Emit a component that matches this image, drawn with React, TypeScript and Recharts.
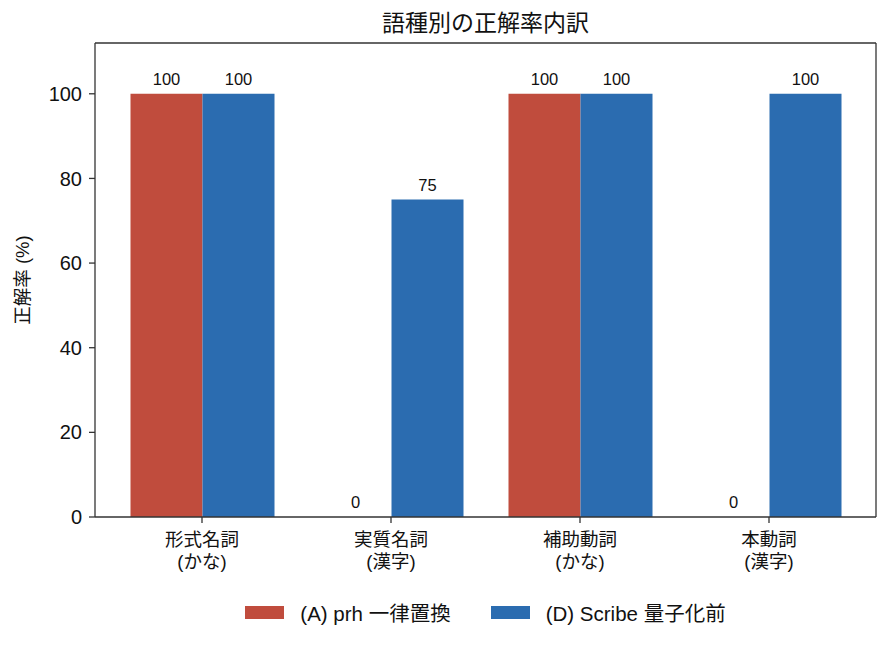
import React from 'react';
import { BarChart, Bar, XAxis, YAxis, Legend, LabelList } from 'recharts';

const categoryLine1 = ['形式名詞', '実質名詞', '補助動詞', '本動詞'];
const categoryLine2 = ['(かな)', '(漢字)', '(かな)', '(漢字)'];
const seriesA = [100, 0, 100, 0];
const seriesD = [100, 75, 100, 100];
const yTicks = [0, 20, 40, 60, 80, 100];
const seriesNames = ['(A) prh 一律置換', '(D) Scribe 量子化前'];
const titleText = '語種別の正解率内訳';
const yLabelText = '正解率 (%)';

const RED = '#C04C3D';
const BLUE = '#2B6CB0';
const AXIS = '#333333';
const FONT = '"Liberation Sans", "Noto Sans CJK JP", sans-serif';

const data = categoryLine1.map((c, i) => ({
  cat: c,
  a: seriesA[i],
  d: seriesD[i],
}));

const XTick = (props: any) => {
  const { x, y, index } = props;
  return (
    <text x={x} y={y} textAnchor="middle" fontSize={18.5} fill="#111" fontFamily={FONT}>
      <tspan x={x} dy={21}>{categoryLine1[index]}</tspan>
      <tspan x={x} dy={22}>{categoryLine2[index]}</tspan>
    </text>
  );
};

const YLabel = () => (
  <text
    x={22}
    y={280}
    transform="rotate(-90 22 280)"
    textAnchor="middle"
    dominantBaseline="central"
    fontSize={18.5}
    fill="#111"
    fontFamily={FONT}
  >
    {yLabelText}
  </text>
);

const BarValueLabel = (props: any) => {
  const { x, y, width, height, value } = props;
  if (value === undefined || value === null) return null;
  const top = Math.min(Number(y), Number(y) + Number(height));
  return (
    <text
      x={Number(x) + Number(width) / 2}
      y={top - 9}
      textAnchor="middle"
      fontSize={16.5}
      fill="#111"
      fontFamily={FONT}
    >
      {value}
    </text>
  );
};

const LegendContent = () => (
  <div
    style={{
      display: 'flex',
      justifyContent: 'center',
      alignItems: 'center',
      height: 30,
      fontFamily: FONT,
      fontSize: 20.5,
      color: '#111',
    }}
  >
    {[RED, BLUE].map((c, i) => (
      <div key={i} style={{ display: 'flex', alignItems: 'center', marginLeft: i === 0 ? 0 : 40 }}>
        <div style={{ width: 39, height: 13, background: c, marginRight: 16 }} />
        <span>{seriesNames[i]}</span>
      </div>
    ))}
  </div>
);

export default function App() {
  return (
    <div style={{ position: 'absolute', left: 0, top: 0, width: 890, height: 645, background: '#fff' }}>
      <div
        style={{
          position: 'absolute',
          left: 95,
          width: 781,
          top: 8,
          textAlign: 'center',
          fontFamily: FONT,
          fontSize: 23,
          lineHeight: '30px',
          color: '#111',
        }}
      >
        {titleText}
      </div>
      <BarChart
        width={890}
        height={645}
        data={data}
        margin={{ top: 43, right: 14, left: 0, bottom: 18 }}
        barGap={0}
        barSize={72}
        style={{ fontFamily: FONT }}
      >
        <XAxis
          dataKey="cat"
          height={80}
          padding={{ left: 12.5, right: 12.5 }}
          tick={<XTick />}
          tickSize={6}
          tickMargin={2}
          interval={0}
          axisLine={{ stroke: AXIS, strokeWidth: 1.3 }}
          tickLine={{ stroke: AXIS, strokeWidth: 1.3 }}
        />
        <YAxis
          width={95}
          domain={[0, 112]}
          ticks={yTicks}
          allowDataOverflow
          tickSize={6}
          tickMargin={7}
          tick={{ fontSize: 20, fill: '#111', fontFamily: FONT }}
          axisLine={{ stroke: AXIS, strokeWidth: 1.3 }}
          tickLine={{ stroke: AXIS, strokeWidth: 1.3 }}
          label={<YLabel />}
        />
        <Legend
          verticalAlign="bottom"
          content={<LegendContent />}
          wrapperStyle={{ left: 95, width: 781 }}
        />
        <Bar dataKey="a" name={seriesNames[0]} fill={RED} minPointSize={0.01} isAnimationActive={false}>
          <LabelList dataKey="a" content={<BarValueLabel />} />
        </Bar>
        <Bar dataKey="d" name={seriesNames[1]} fill={BLUE} minPointSize={0.01} isAnimationActive={false}>
          <LabelList dataKey="d" content={<BarValueLabel />} />
        </Bar>
      </BarChart>
      <svg
        width={890}
        height={645}
        style={{ position: 'absolute', left: 0, top: 0, pointerEvents: 'none' }}
      >
        <line x1={95} y1={43} x2={876} y2={43} stroke={AXIS} strokeWidth={1.3} />
        <line x1={876} y1={43} x2={876} y2={517} stroke={AXIS} strokeWidth={1.3} />
      </svg>
    </div>
  );
}
